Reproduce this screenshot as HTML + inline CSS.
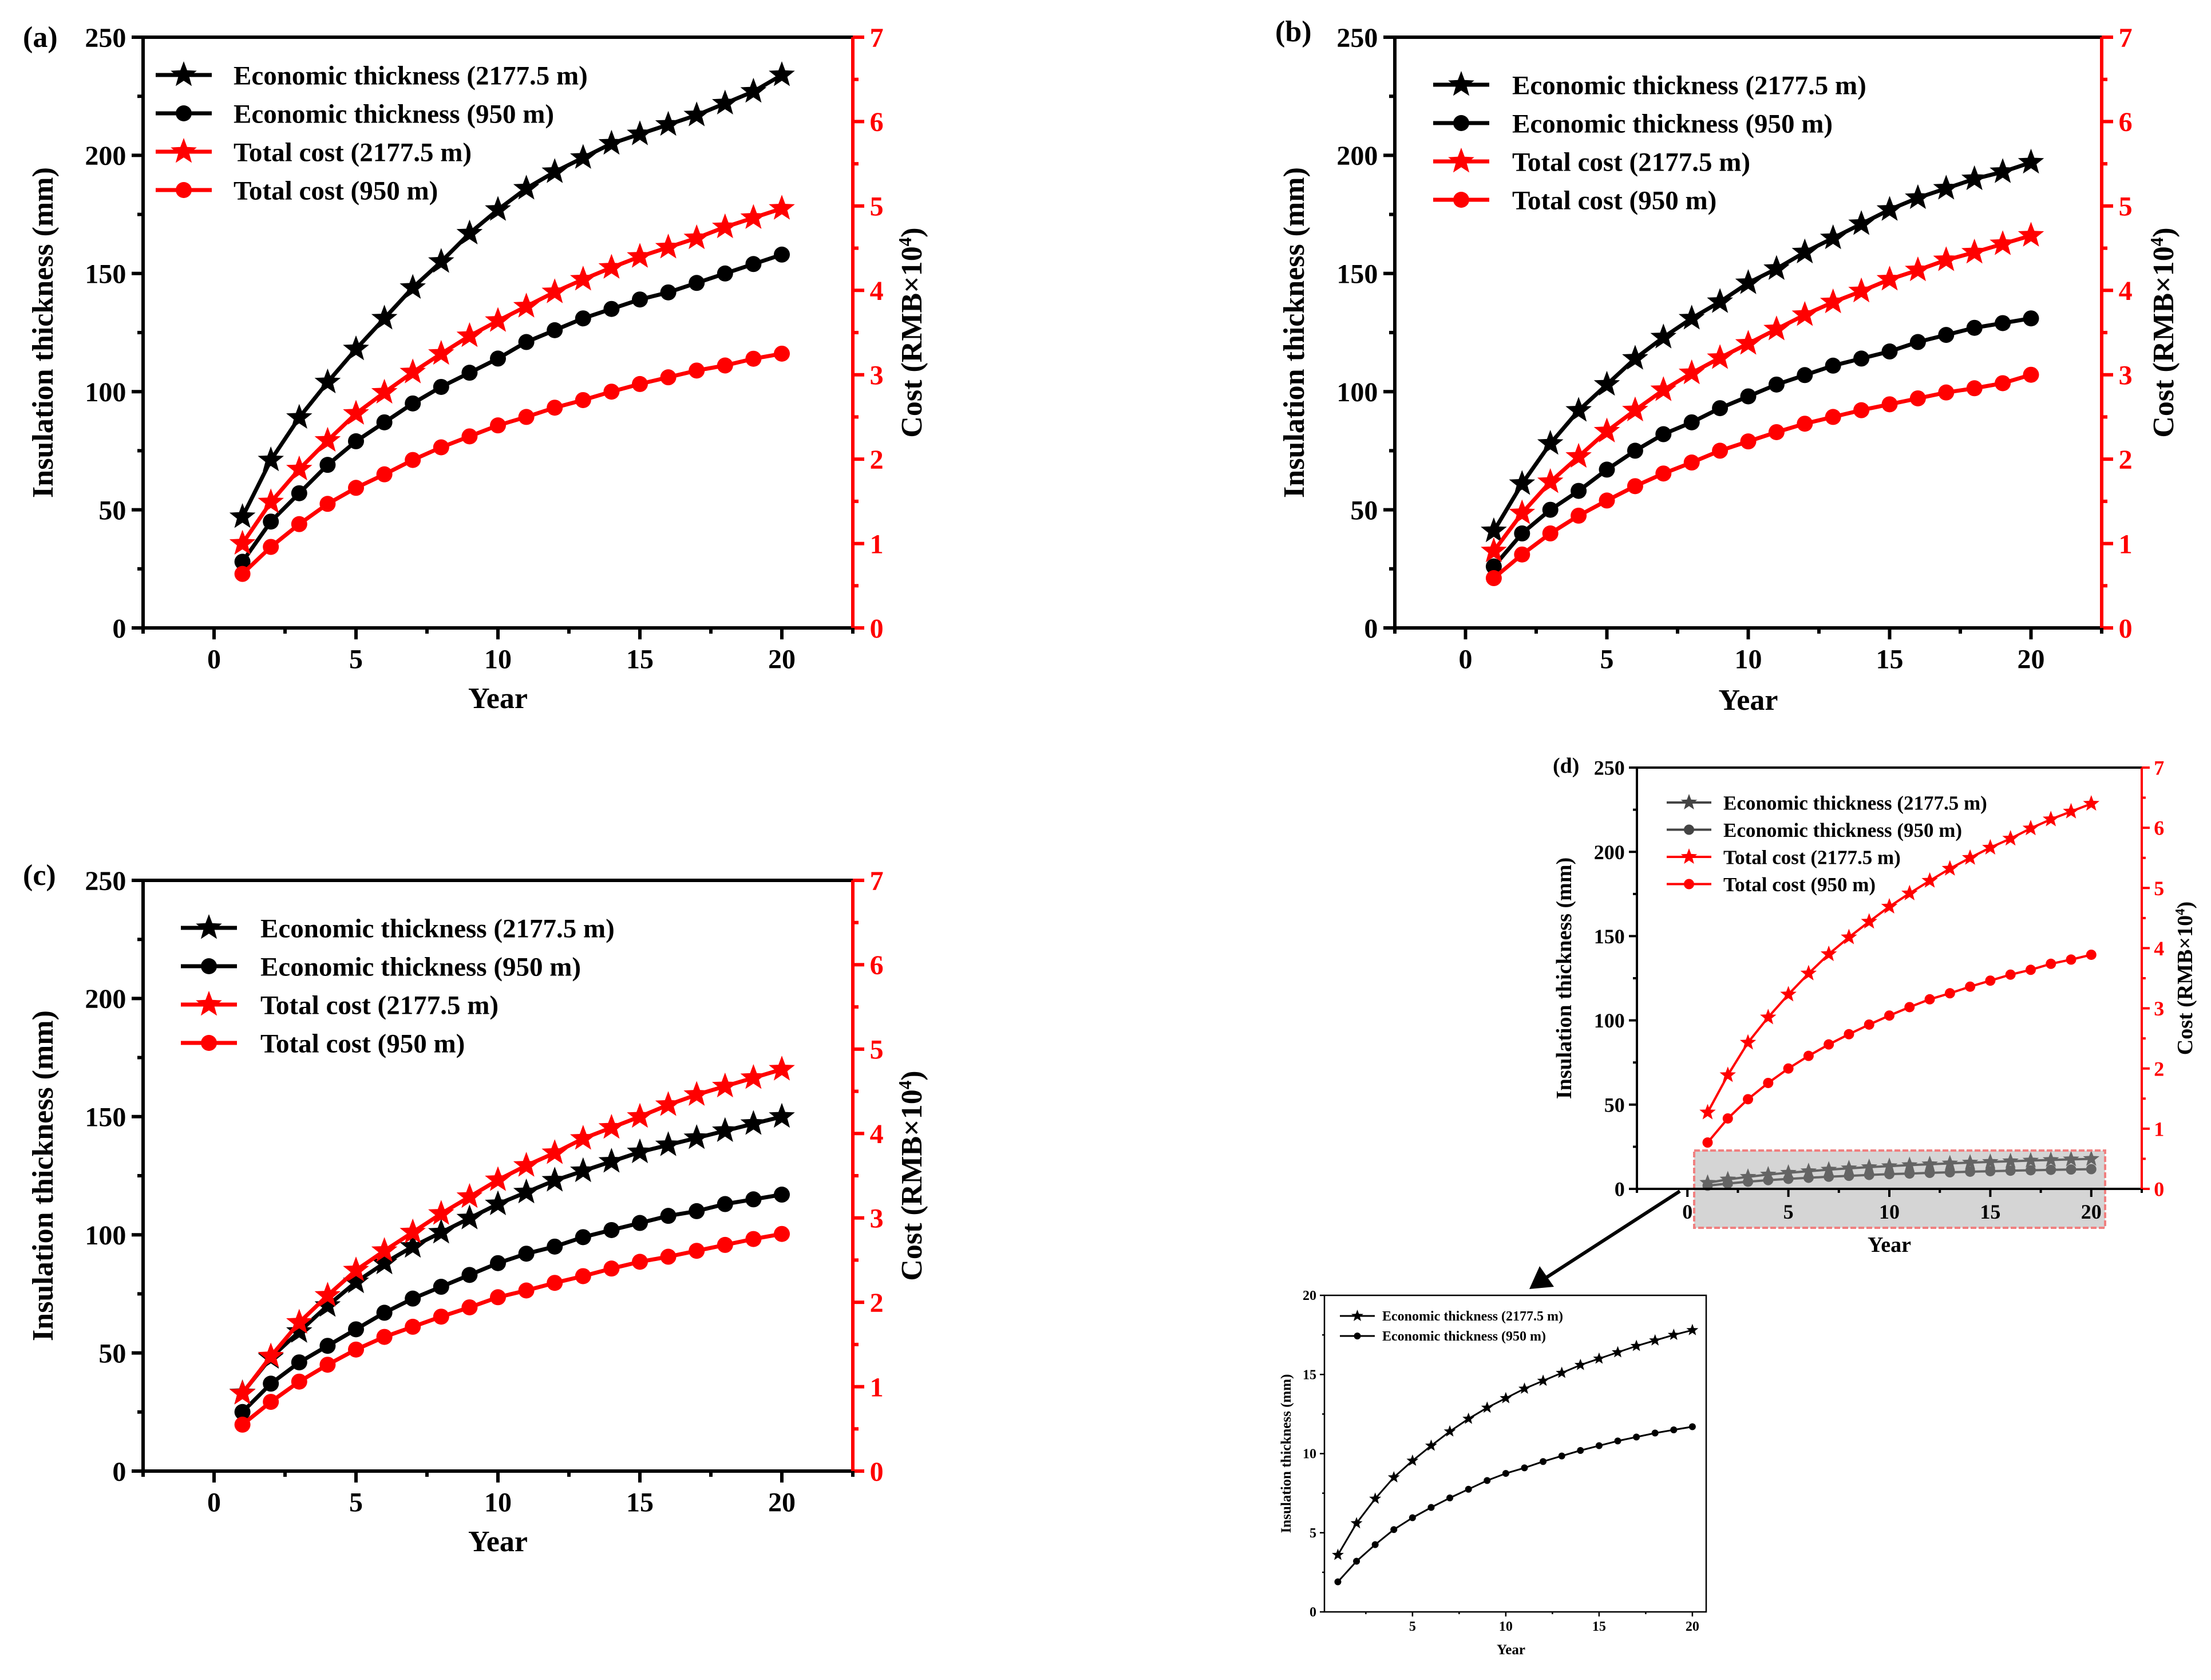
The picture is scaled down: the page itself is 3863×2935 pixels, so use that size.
<!DOCTYPE html>
<html><head><meta charset="utf-8"><style>
html,body{margin:0;padding:0;background:#fff;}
svg, svg text{font-family:"Liberation Serif","Times New Roman",serif !important;font-weight:bold;}
</style></head><body>
<svg id="fig" xmlns="http://www.w3.org/2000/svg" width="3863" height="2930" viewBox="0 0 3863 2930" font-family="Liberation Serif, serif" font-weight="bold"></svg>
<script>
const years = [1,2,3,4,5,6,7,8,9,10,11,12,13,14,15,16,17,18,19,20];
const legendLabels = ["Economic thickness (2177.5 m)","Economic thickness (950 m)","Total cost (2177.5 m)","Total cost (950 m)"];
const a_thick2177 = [47,71,89,104,118,131,144,155,167,177,186,193,199,205,209,213,217,222,227,234];
const a_thick950 = [28,45,57,69,79,87,95,102,108,114,121,126,131,135,139,142,146,150,154,158];
const a_cost2177 = [1.0,1.49,1.88,2.22,2.54,2.79,3.03,3.25,3.46,3.64,3.81,3.98,4.13,4.27,4.40,4.51,4.62,4.75,4.86,4.97];
const a_cost950 = [0.64,0.96,1.23,1.47,1.66,1.82,1.99,2.14,2.27,2.40,2.50,2.61,2.70,2.80,2.89,2.97,3.05,3.11,3.19,3.25];
const b_thick2177 = [41,61,78,92,103,114,123,131,138,146,152,159,165,171,177,182,186,190,193,197];
const b_thick950 = [26,40,50,58,67,75,82,87,93,98,103,107,111,114,117,121,124,127,129,131];
const b_cost2177 = [0.91,1.36,1.73,2.03,2.33,2.58,2.82,3.02,3.2,3.37,3.54,3.71,3.86,3.99,4.13,4.24,4.36,4.45,4.55,4.65];
const b_cost950 = [0.59,0.87,1.12,1.33,1.51,1.68,1.83,1.96,2.1,2.21,2.32,2.42,2.5,2.58,2.65,2.72,2.79,2.84,2.9,3.0];
const c_thick2177 = [33,48,59,70,80,88,95,101,107,113,118,123,127,131,135,138,141,144,147,150];
const c_thick950 = [25,37,46,53,60,67,73,78,83,88,92,95,99,102,105,108,110,113,115,117];
const c_cost2177 = [0.92,1.36,1.76,2.08,2.38,2.61,2.83,3.05,3.25,3.45,3.62,3.77,3.94,4.07,4.2,4.34,4.46,4.56,4.66,4.76];
const c_cost950 = [0.55,0.82,1.06,1.26,1.44,1.59,1.71,1.83,1.94,2.06,2.14,2.23,2.31,2.4,2.48,2.54,2.61,2.68,2.75,2.81];
const d_thick2177 = [3.6,5.6,7.15,8.5,9.55,10.5,11.4,12.2,12.9,13.5,14.1,14.6,15.1,15.6,16.0,16.4,16.8,17.15,17.5,17.8];
const d_thick950 = [1.9,3.2,4.25,5.2,5.95,6.6,7.2,7.75,8.3,8.75,9.1,9.5,9.85,10.2,10.5,10.8,11.05,11.3,11.5,11.7];
const d_cost2177 = [1.27,1.89,2.43,2.85,3.23,3.58,3.9,4.18,4.44,4.69,4.91,5.12,5.32,5.5,5.67,5.82,5.99,6.14,6.27,6.4];
const d_cost950 = [0.77,1.17,1.49,1.76,2.0,2.21,2.4,2.57,2.73,2.88,3.02,3.15,3.25,3.36,3.46,3.56,3.64,3.74,3.81,3.89];
const xTicks = [0,5,10,15,20];
const yTicks = [0,50,100,150,200,250];
const y2Ticks = [0,1,2,3,4,5,6,7];
const insetYTicks = [0,5,10,15,20];
const insetXTicks = [5,10,15,20];

const svg = document.getElementById('fig');
const NS = 'http://www.w3.org/2000/svg';
function mk(tag, attrs, parent){
  const e = document.createElementNS(NS, tag);
  for (const k in attrs) e.setAttribute(k, attrs[k]);
  (parent||svg).appendChild(e);
  return e;
}
function txt(s, attrs, parent){
  const e = mk('text', attrs, parent);
  e.setAttribute('font-family', 'Liberation Serif, serif');
  e.setAttribute('font-weight', 'bold');
  e.textContent = s; return e;
}
function starPath(cx, cy, r){
  let d = '';
  for (let i=0;i<10;i++){
    const rr = i%2===0 ? r : r*0.42;
    const ang = -Math.PI/2 + i*Math.PI/5;
    d += (i===0?'M':'L') + (cx+rr*Math.cos(ang)).toFixed(1) + ',' + (cy+rr*Math.sin(ang)).toFixed(1);
  }
  return d + 'Z';
}
function drawSeries(g, xs, vals, sx, sy, color, marker, lw, sr, cr, name){
  const s = mk('g', {}, g);
  
  
  const pts = xs.map((x,i)=>sx(x).toFixed(1)+','+sy(vals[i]).toFixed(1)).join(' ');
  const pl = mk('polyline', {points:pts, fill:'none', stroke:color, 'stroke-width':lw, 'stroke-linejoin':'round'}, s);
  
  
  xs.forEach((x,i)=>{
    let m;
    if (marker==='star') m = mk('path', {d:starPath(sx(x), sy(vals[i]), sr), fill:color}, s);
    else m = mk('circle', {cx:sx(x), cy:sy(vals[i]), r:cr, fill:color}, s);
    
    
  });
}
function legendMarker(g, x, y, color, marker, lw, sr, cr, len){
  mk('line', {x1:x, y1:y, x2:x+len, y2:y, stroke:color, 'stroke-width':lw}, g);
  if (marker==='star') mk('path', {d:starPath(x+len/2, y, sr), fill:color}, g);
  else mk('circle', {cx:x+len/2, cy:y, r:cr}, g).setAttribute('fill', color);
}

function panel(p){
  const g = mk('g', {});
  
  
  const sx = v => p.L + (v - p.xmin)/(p.xmax - p.xmin)*(p.R - p.L);
  const sy = v => p.B - v/p.ymax*(p.B - p.T);
  const sy2 = v => p.B - v/p.y2max*(p.B - p.T);
  const fs = p.fs, tl = p.tl, aw = p.aw;
  const black = p.black || '#000';
  drawSeries(g, years, p.t1, sx, sy, black, 'star', p.lw, p.sr, p.cr, 'series-thickness-2177');
  drawSeries(g, years, p.t2, sx, sy, black, 'circle', p.lw, p.sr, p.cr, 'series-thickness-950');
  if (p.shade){
    const r = mk('rect', {x:p.shade[0], y:p.shade[1], width:p.shade[2], height:p.shade[3], fill:'rgba(150,150,150,0.4)', stroke:'#f08080', 'stroke-width':4, 'stroke-dasharray':'10,4'}, g);
    
    
  }
  drawSeries(g, years, p.c1, sx, sy2, '#ff0000', 'star', p.lw, p.sr, p.cr, 'series-cost-2177');
  drawSeries(g, years, p.c2, sx, sy2, '#ff0000', 'circle', p.lw, p.sr, p.cr, 'series-cost-950');
  const ax = mk('g', {}, g);
  
  
  mk('line', {x1:p.L, y1:p.T, x2:p.R, y2:p.T, stroke:'#000', 'stroke-width':aw}, ax);
  mk('line', {x1:p.L, y1:p.T, x2:p.L, y2:p.B, stroke:'#000', 'stroke-width':aw}, ax);
  mk('line', {x1:p.L-aw/2, y1:p.B, x2:p.R, y2:p.B, stroke:'#000', 'stroke-width':aw}, ax);
  mk('line', {x1:p.R, y1:p.T, x2:p.R, y2:p.B+aw/2, stroke:'#ff0000', 'stroke-width':aw}, ax);
  yTicks.forEach(v=>{
    const y = sy(v);
    mk('line', {x1:p.L-tl, y1:y, x2:p.L, y2:y, stroke:'#000', 'stroke-width':aw}, ax);
    if (v<250) mk('line', {x1:p.L-tl/2, y1:sy(v+25), x2:p.L, y2:sy(v+25), stroke:'#000', 'stroke-width':aw}, ax);
    const t = txt(String(v), {x:p.L-tl-fs*0.2, y:y+fs*0.35, 'font-size':fs, 'text-anchor':'end'}, ax);
    
    
  });
  y2Ticks.forEach(v=>{
    const y = sy2(v);
    mk('line', {x1:p.R, y1:y, x2:p.R+tl, y2:y, stroke:'#ff0000', 'stroke-width':aw}, ax);
    if (v<7) mk('line', {x1:p.R, y1:sy2(v+0.5), x2:p.R+tl/2, y2:sy2(v+0.5), stroke:'#ff0000', 'stroke-width':aw}, ax);
    const t = txt(String(v), {x:p.R+tl+fs*0.2, y:y+fs*0.35, 'font-size':fs, fill:'#ff0000'}, ax);
    
    
  });
  xTicks.forEach(v=>{
    const x = sx(v);
    mk('line', {x1:x, y1:p.B, x2:x, y2:p.B+tl, stroke:'#000', 'stroke-width':aw}, ax);
    mk('line', {x1:sx(v-2.5), y1:p.B, x2:sx(v-2.5), y2:p.B+tl/2, stroke:'#000', 'stroke-width':aw}, ax);
    const t = txt(String(v), {x:x, y:p.B+tl+fs*1.05, 'font-size':fs, 'text-anchor':'middle'}, ax);
    
    
  });
  mk('line', {x1:sx(22.5), y1:p.B, x2:sx(22.5), y2:p.B+tl/2, stroke:'#000', 'stroke-width':aw}, ax);
  const cy = (p.T+p.B)/2;
  let t = txt('Insulation thickness (mm)', {x:p.ytx, y:cy, 'font-size':p.tfs, 'text-anchor':'middle', transform:`rotate(-90 ${p.ytx} ${cy})`}, g);
  
  
  t = txt('', {x:p.y2tx, y:cy, 'font-size':p.tfs, 'text-anchor':'middle', transform:`rotate(-90 ${p.y2tx} ${cy})`}, g);
  t.innerHTML = 'Cost (RMB×10<tspan font-size="'+(p.tfs*0.6)+'" dy="-'+(p.tfs*0.35)+'">4</tspan><tspan dy="'+(p.tfs*0.35)+'">)</tspan>';
  
  
  t = txt('Year', {x:(p.L+p.R)/2, y:p.xty, 'font-size':p.tfs, 'text-anchor':'middle'}, g);
  
  
  t = txt(p.label, {x:p.lblx, y:p.lbly, 'font-size':p.tfs}, g);
  
  
  const lg = mk('g', {}, g);
  
  
  const cols = [black, black, '#ff0000', '#ff0000'];
  const mks = ['star','circle','star','circle'];
  legendLabels.forEach((s,i)=>{
    const y = p.legY + i*p.legDy;
    const e = mk('g', {}, lg);
    
    
    legendMarker(e, p.legX, y, cols[i], mks[i], p.lw, p.sr, p.cr, p.legLen);
    txt(s, {x:p.legTx, y:y+p.lfs*0.35, 'font-size':p.lfs}, e);
  });
}

const big = {xmin:-2.5, xmax:22.5, ymax:250, y2max:7, fs:48, tfs:52, lfs:47, tl:20, aw:6, lw:7, sr:24, cr:14, legLen:98, legDy:67};
panel(Object.assign({}, big, {name:'panel-a', L:250, R:1490, T:65, B:1097, t1:a_thick2177, t2:a_thick950, c1:a_cost2177, c2:a_cost950,
  ytx:92, y2tx:1610, xty:1237, label:'(a)', lblx:40, lbly:82, legX:272, legTx:408, legY:131}));
panel(Object.assign({}, big, {name:'panel-b', L:2437, R:3672, T:65, B:1097, t1:b_thick2177, t2:b_thick950, c1:b_cost2177, c2:b_cost950,
  ytx:2278, y2tx:3797, xty:1240, label:'(b)', lblx:2228, lbly:72, legX:2504, legTx:2642, legY:148}));
panel(Object.assign({}, big, {name:'panel-c', L:250, R:1490, T:1538, B:2570, t1:c_thick2177, t2:c_thick950, c1:c_cost2177, c2:c_cost950,
  ytx:92, y2tx:1610, xty:2710, label:'(c)', lblx:40, lbly:1546, legX:316, legTx:455, legY:1621}));
panel({name:'panel-d', xmin:-2.5, xmax:22.5, ymax:250, y2max:7, fs:36, tfs:38, lfs:35, tl:14, aw:4, lw:4, sr:15, cr:9, legLen:78, legDy:47.5,
  L:2860, R:3742, T:1341, B:2077, t1:d_thick2177, t2:d_thick950, c1:d_cost2177, c2:d_cost950, black:'#444',
  shade:[2960,2010,718,135],
  ytx:2745, y2tx:3830, xty:2187, label:'(d)', lblx:2713, lbly:1350, legX:2912, legTx:3011, legY:1402});

const arr = mk('g', {});


mk('line', {x1:2935, y1:2081, x2:2700, y2:2233, stroke:'#000', 'stroke-width':6}, arr);
mk('polygon', {points:'2672,2252 2690,2212 2715,2248', fill:'#000'}, arr);

(function(){
  const L=2314, R=2981, T=2263, B=2816, xmin=0.28, xmax=20.74, ymax=20;
  const sx = v => L + (v-xmin)/(xmax-xmin)*(R-L);
  const sy = v => B - v/ymax*(B-T);
  const g = mk('g', {});
  
  
  drawSeries(g, years, d_thick2177, sx, sy, '#000', 'star', 3, 11, 6, 'inset-series-thickness-2177');
  drawSeries(g, years, d_thick950, sx, sy, '#000', 'circle', 3, 11, 6, 'inset-series-thickness-950');
  const fr = mk('rect', {x:L, y:T, width:R-L, height:B-T, fill:'none', stroke:'#000', 'stroke-width':2.5}, g);
  
  
  insetYTicks.forEach(v=>{
    mk('line', {x1:L-8, y1:sy(v), x2:L, y2:sy(v), stroke:'#000', 'stroke-width':2.5}, g);
    if (v<20) mk('line', {x1:L-4, y1:sy(v+2.5), x2:L, y2:sy(v+2.5), stroke:'#000', 'stroke-width':2.5}, g);
    const t = txt(String(v), {x:L-14, y:sy(v)+8, 'font-size':24, 'text-anchor':'end'}, g);
    
    
  });
  insetXTicks.forEach(v=>{
    mk('line', {x1:sx(v), y1:B, x2:sx(v), y2:B+8, stroke:'#000', 'stroke-width':2.5}, g);
    mk('line', {x1:sx(v-2.5), y1:B, x2:sx(v-2.5), y2:B+4, stroke:'#000', 'stroke-width':2.5}, g);
    const t = txt(String(v), {x:sx(v), y:B+33, 'font-size':24, 'text-anchor':'middle'}, g);
    
    
  });
  let t = txt('Insulation thickness (mm)', {x:2255, y:(T+B)/2, 'font-size':25, 'text-anchor':'middle', transform:`rotate(-90 2255 ${(T+B)/2})`}, g);
  
  
  t = txt('Year', {x:2640, y:2890, 'font-size':25, 'text-anchor':'middle'}, g);
  
  
  [0,1].forEach(i=>{
    const y = 2299 + i*35;
    const e = mk('g', {}, g);
    
    
    legendMarker(e, 2341, y, '#000', i===0?'star':'circle', 3, 11, 6, 61);
    txt(legendLabels[i], {x:2415, y:y+8, 'font-size':24}, e);
  });
})();
</script>
</body></html>
